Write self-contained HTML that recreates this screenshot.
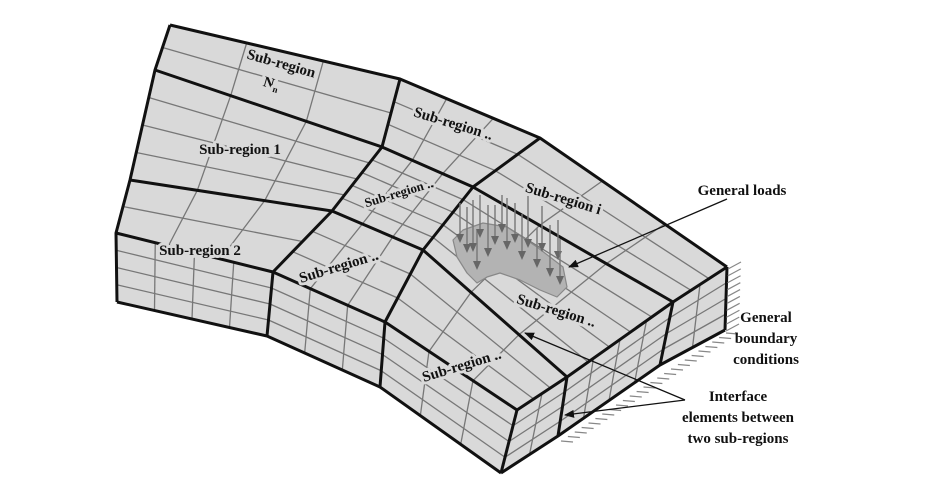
<!DOCTYPE html>
<html><head><meta charset="utf-8"><style>
html,body{margin:0;padding:0;background:#fff;width:940px;height:500px;overflow:hidden}
svg{display:block}
text{font-family:"Liberation Serif",serif;font-weight:bold;fill:#111}
.lab{paint-order:stroke;stroke:#d9d9d9;stroke-width:6px;stroke-linejoin:round}
</style></head><body>
<svg id="s" width="940" height="500" viewBox="0 0 940 500" xmlns="http://www.w3.org/2000/svg">
<defs>
<marker id="ah" markerWidth="10" markerHeight="8" refX="9" refY="4" orient="auto" markerUnits="userSpaceOnUse">
<path d="M0,0 L10,4 L0,8 z" fill="#111"/></marker>
</defs>
<g id="faces"></g>
<g id="thin" stroke="#777" stroke-width="1.3" fill="none"></g>
<g id="thick" stroke="#111" stroke-width="3" fill="none" stroke-linejoin="round"></g>
<g id="load"></g>
<g id="hatch" stroke="#888" stroke-width="1.2"></g>
<g id="labels" font-size="15">
<text class="lab" x="280" y="68" transform="rotate(16 280 68)" text-anchor="middle">Sub-region</text>
<text class="lab" x="270" y="88" transform="rotate(16 270 88)" text-anchor="middle">N<tspan font-size="9" dy="3">n</tspan></text>
<text class="lab" x="240" y="154" text-anchor="middle">Sub-region 1</text>
<text class="lab" x="200" y="255" text-anchor="middle">Sub-region 2</text>
<text class="lab" x="452" y="128" transform="rotate(17 452 128)" text-anchor="middle">Sub-region ..</text>
<text class="lab" x="400" y="197" font-size="13" transform="rotate(-17 400 197)" text-anchor="middle">Sub-region ..</text>
<text class="lab" x="562" y="203" transform="rotate(17 562 203)" text-anchor="middle">Sub-region i</text>
<text class="lab" x="340" y="271" transform="rotate(-17 340 271)" text-anchor="middle">Sub-region ..</text>
<text class="lab" x="555" y="315" transform="rotate(17 555 315)" text-anchor="middle">Sub-region ..</text>
<text class="lab" x="463" y="370" transform="rotate(-17 463 370)" text-anchor="middle">Sub-region ..</text>
</g>
<g font-size="15" text-anchor="middle">
<text x="742" y="195">General loads</text>
<text x="766" y="322">General</text>
<text x="766" y="343">boundary</text>
<text x="766" y="364">conditions</text>
<text x="738" y="401">Interface</text>
<text x="738" y="422">elements between</text>
<text x="738" y="443">two sub-regions</text>
</g>
<g stroke="#111" stroke-width="1.3" fill="none">
<line x1="727" y1="199" x2="569" y2="267" marker-end="url(#ah)"/>
<line x1="685" y1="400" x2="525" y2="333" marker-end="url(#ah)"/>
<line x1="685" y1="400" x2="565" y2="415" marker-end="url(#ah)"/>
</g>
</svg>
<script>
(function(){
var NS="http://www.w3.org/2000/svg";
function el(p,t,a){var e=document.createElementNS(NS,t);for(var k in a)e.setAttribute(k,a[k]);var g=document.getElementById(p);g.appendChild(e);return e;}
function L(a,b,t){return [a[0]+(b[0]-a[0])*t,a[1]+(b[1]-a[1])*t];}
function bil(A,B,C,D,u,v){return L(L(A,B,u),L(C,D,u),v);}
function pts(a){return a.map(function(p){return p[0].toFixed(1)+","+p[1].toFixed(1)}).join(" ");}
var R=[
[[170,25],[400,79],[540,138],[727,267]],
[[155,70],[382,147],[473,187],[673,302]],
[[130,180],[332,211],[423,250],[567,377]],
[[116,233],[273,272],[385,322],[517,410]]];
var FB=[[117,302],[267,336],[380,387],[501,473]];
var ST=[[517,410],[567,377],[673,302],[727,267]];
var SB=[[501,473],[558,436],[660,365],[725,330]];
var fill="#d9d9d9";
var topPoly=[].concat(R[0],[R[1][3],R[2][3]],R[3].slice().reverse(),[R[2][0],R[1][0]]);
el("faces","polygon",{points:pts(topPoly),fill:fill});
el("faces","polygon",{points:pts(R[3].concat(FB.slice().reverse())),fill:fill});
el("faces","polygon",{points:pts(ST.concat(SB.slice().reverse())),fill:fill});
function block(A,B,C,D,nu,nv){
 for(var i=1;i<nu;i++){var u=i/nu;var p=bil(A,B,C,D,u,0),q=bil(A,B,C,D,u,1);el("thin","line",{x1:p[0],y1:p[1],x2:q[0],y2:q[1]});}
 for(var j=1;j<nv;j++){var v=j/nv;var p2=bil(A,B,C,D,0,v),q2=bil(A,B,C,D,1,v);el("thin","line",{x1:p2[0],y1:p2[1],x2:q2[0],y2:q2[1]});}
}
var divU=[3,3,3],divV=[2,4,2];
for(var i=0;i<3;i++)for(var j=0;j<3;j++){
 block(R[i][j],R[i][j+1],R[i+1][j],R[i+1][j+1],divU[j],divV[i]+(j>0?1:0));
}
for(var j2=0;j2<3;j2++){block(R[3][j2],R[3][j2+1],FB[j2],FB[j2+1],j2==0?4:3,4);}
for(var j3=0;j3<3;j3++){block(ST[j3],ST[j3+1],SB[j3],SB[j3+1],j3==1?4:2,4);}
function poly(a){el("thick","polyline",{points:pts(a)});}
poly(R[0]);poly(R[1]);poly(R[2]);
poly([R[0][0],R[1][0],R[2][0],R[3][0],FB[0]]);
poly(R[3]);poly(FB);poly(SB);poly([ST[3],SB[3]]);poly([R[0][3],R[1][3],R[2][3],R[3][3]]);
for(var c=1;c<3;c++)poly([R[0][c],R[1][c],R[2][c],R[3][c],FB[c]]);
poly([R[3][3],FB[3]]);poly([ST[1],SB[1]]);poly([ST[2],SB[2]]);
function hatchAlong(a,b,n,dx,dy){for(var k=0;k<=n;k++){var p=L(a,b,k/n);el("hatch","line",{x1:p[0]+1,y1:p[1]+1,x2:p[0]+dx,y2:p[1]+dy});}}
hatchAlong([727,268],[725,330],9,14,-6);hatchAlong([725,332],[560,440],24,13,2);
var blob=[[453,240],[463,230],[483,223],[507,227],[537,247],[563,267],[567,287],[557,297],[540,290],[520,280],[500,273],[487,277],[477,283],[467,273],[457,257]];
el("load","polygon",{points:pts(blob),fill:"#b3b3b3",stroke:"#888","stroke-width":1.2,"stroke-linejoin":"round"});
var heads=[[460,243],[467,253],[473,252],[477,270],[480,238],[488,257],[495,245],[502,233],[507,250],[515,243],[522,260],[528,248],[537,268],[542,252],[550,277],[558,260],[560,285]];
heads.forEach(function(h,k){var t=Math.max(195,h[1]-40-(k%3)*6);
 el("load","line",{x1:h[0],y1:t,x2:h[0],y2:h[1]-8,stroke:"#777","stroke-width":1.4});
 el("load","polygon",{points:(h[0]-4)+","+(h[1]-9)+" "+(h[0]+4)+","+(h[1]-9)+" "+h[0]+","+h[1],fill:"#666"});});
})();
</script>
</body></html>
